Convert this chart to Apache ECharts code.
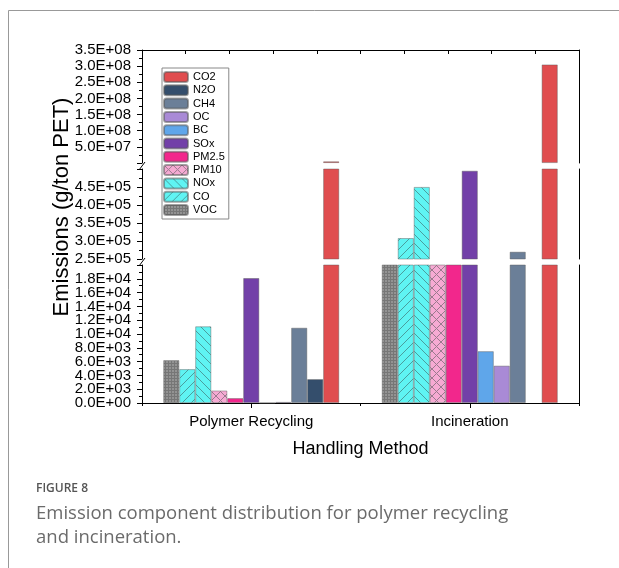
<!DOCTYPE html>
<html>
<head>
<meta charset="utf-8">
<script src="https://cdn.jsdelivr.net/npm/echarts@6/dist/echarts.min.js"></script>
<style>
html,body{margin:0;padding:0;background:#fff;}
#chart{width:619px;height:568px;}
</style>
</head>
<body>
<div id="chart"></div>
<script>
// ---------------- data ----------------
const categories = ['Polymer Recycling', 'Incineration'];
const seriesNames = ['VOC', 'CO', 'NOx', 'PM10', 'PM2.5', 'SOx', 'BC', 'OC', 'CH4', 'N2O', 'CO2'];
const VOC  = [6200, 100000];
const CO   = [4900, 308000];
const NOx  = [11100, 450000];
const PM10 = [1800, 60000];
const PM25 = [700, 80000];
const SOx  = [18100, 495000];
const BC   = [20, 7500];
const OC   = [150, 5400];
const CH4  = [10900, 270000];
const N2O  = [3450, 0];
const CO2  = [5000000, 305000000];
const seriesValues = [VOC, CO, NOx, PM10, PM25, SOx, BC, OC, CH4, N2O, CO2];
const legendOrder = ['CO2', 'N2O', 'CH4', 'OC', 'BC', 'SOx', 'PM2.5', 'PM10', 'NOx', 'CO', 'VOC'];

// ---------------- styles ----------------
function tile(size, draw) {
  const c = document.createElement('canvas');
  c.width = size; c.height = size;
  draw(c.getContext('2d'), size);
  return { image: c, repeat: 'repeat' };
}
function hatch(bg, line, dirs, size) {
  return tile(size, function (g, s) {
    g.fillStyle = bg; g.fillRect(0, 0, s, s);
    g.strokeStyle = line; g.lineWidth = 1;
    g.beginPath();
    if (dirs.indexOf('/') >= 0) {
      g.moveTo(-1, s + 1); g.lineTo(s + 1, -1);
      g.moveTo(-2, 2); g.lineTo(2, -2);
      g.moveTo(s - 2, s + 2); g.lineTo(s + 2, s - 2);
    }
    if (dirs.indexOf('\\') >= 0) {
      g.moveTo(-1, -1); g.lineTo(s + 1, s + 1);
      g.moveTo(s - 2, -2); g.lineTo(s + 2, 2);
      g.moveTo(-2, s - 2); g.lineTo(2, s + 2);
    }
    g.stroke();
  });
}
const vocFill = tile(3, function (g, s) {
  g.fillStyle = '#939393'; g.fillRect(0, 0, s, s);
  g.fillStyle = '#767676'; g.fillRect(0, 0, s, 1); g.fillRect(0, 0, 1, s);
});
const colors = {
  'VOC': vocFill,
  'CO': hatch('#5FF4F3', '#4A9E9E', '/', 9),
  'NOx': hatch('#5FF4F3', '#4A9E9E', '\\', 9),
  'PM10': hatch('#F6AAD3', '#9A7A8E', '/\\', 9),
  'PM2.5': '#F2278C',
  'SOx': '#7240A8',
  'BC': '#5FA6EA',
  'OC': '#A98AD6',
  'CH4': '#6B7F98',
  'N2O': '#344E6C',
  'CO2': '#E04D4F'
};

function sci(v) {
  if (v === 0) return '0.0E+00';
  let e = Math.floor(Math.log10(Math.abs(v)));
  let m = Math.round(v / Math.pow(10, e) * 10) / 10;
  if (m >= 10) { m /= 10; e++; }
  const ae = Math.abs(e);
  return m.toFixed(1) + 'E' + (e < 0 ? '-' : '+') + (ae < 10 ? '0' : '') + ae;
}

const FONT = '"Liberation Sans", Arial, sans-serif';
const L = 142, W = 437;
// floor: smallest value that reaches into this segment (top of the segment below)
const segs = [
  { top: 50, height: 113, min: 0, max: 3.5e8, interval: 5e7, floor: 5e5, hideMin: true, hideMax: false, zeroLabel: false },
  { top: 169, height: 90, min: 2.5e5, max: 5e5, interval: 5e4, floor: 2.5e5, hideMin: false, hideMax: true, zeroLabel: false },
  { top: 265, height: 138, min: 0, max: 2e4, interval: 2e3, floor: 0, hideMin: true, hideMax: true, zeroLabel: true }
];

const grids = segs.map(s => ({ left: L, width: W, top: s.top, height: s.height }));

const xAxis = [
  { gridIndex: 0, type: 'category', data: categories, position: 'top',
    axisLine: { onZero: false, lineStyle: { color: '#000', width: 1 } }, axisTick: { show: false }, axisLabel: { show: false } },
  { gridIndex: 0, type: 'value', position: 'top', min: 0, max: 10, interval: 1,
    axisLine: { show: false, onZero: false }, axisTick: { show: true, inside: true, length: 4, lineStyle: { color: '#000' } },
    axisLabel: { show: false }, splitLine: { show: false } },
  { gridIndex: 1, type: 'category', data: categories, show: false, axisLine: { show: false, onZero: false } },
  { gridIndex: 2, type: 'category', data: categories, position: 'bottom',
    name: 'Handling Method', nameLocation: 'middle', nameGap: 37,
    nameTextStyle: { fontFamily: FONT, fontSize: 18, color: '#000' },
    axisLine: { onZero: false, lineStyle: { color: '#000', width: 1 } },
    axisTick: { show: true, alignWithLabel: true, length: 5, lineStyle: { color: '#000' } },
    axisLabel: { fontFamily: FONT, fontSize: 15, color: '#000', margin: 11 } },
  { gridIndex: 2, type: 'category', data: categories, position: 'bottom',
    axisLine: { show: false, onZero: false }, axisTick: { show: true, length: 3, lineStyle: { color: '#000' } },
    axisLabel: { show: false } }
];

const labelStyle = { fontFamily: FONT, fontSize: 15, color: '#000', margin: 11, hideOverlap: false };
const yAxis = [];
const extraY = [];
segs.forEach((s, i) => {
  yAxis.push({
    gridIndex: i, type: 'value', position: 'left', min: s.min, max: s.max, interval: s.interval,
    axisLine: { show: true, onZero: false, lineStyle: { color: '#000', width: 1 } },
    axisTick: { show: true, length: 5, lineStyle: { color: '#000' } },
    minorTick: { show: true, splitNumber: 2, length: 3, lineStyle: { color: '#000' } },
    splitLine: { show: false },
    axisLabel: Object.assign({}, labelStyle, { formatter: sci,
      showMinLabel: !s.hideMin, showMaxLabel: !s.hideMax })
  });
  yAxis.push({
    gridIndex: i, type: 'value', position: 'right', min: s.min, max: s.max, interval: s.interval,
    axisLine: { show: true, onZero: false, lineStyle: { color: '#000', width: 1 } },
    axisTick: { show: false }, axisLabel: { show: false }, splitLine: { show: false }
  });
  if (s.zeroLabel) {
    // separate axis carrying only the zero label, so it never hides its neighbour
    extraY.push({
      gridIndex: i, type: 'value', position: 'left', min: s.min, max: s.max, interval: s.interval,
      axisLine: { show: false, onZero: false }, axisTick: { show: false }, splitLine: { show: false },
      axisLabel: Object.assign({}, labelStyle, { formatter: v => (v === 0 ? sci(v) : ''),
        showMinLabel: true, showMaxLabel: false })
    });
  }
});
extraY.forEach(a => yAxis.push(a));

const xIdx = [0, 2, 3];
const series = [];
segs.forEach((s, gi) => {
  seriesNames.forEach((name, k) => {
    const vals = seriesValues[k].map(v => (v > s.floor && v > s.min ? v : '-'));
    series.push({
      name: name, type: 'bar', xAxisIndex: xIdx[gi], yAxisIndex: gi * 2,
      data: vals, barGap: '0%', barCategoryGap: '19.5%', clip: true,
      itemStyle: { color: colors[name], borderColor: 'rgba(90,90,90,0.55)', borderWidth: 0.8 },
      emphasis: { disabled: true }, animation: false
    });
  });
});

function brk(yTop, yBot) {
  return { type: 'line', shape: { x1: L - 3, y1: yBot + 1, x2: L + 3, y2: yTop - 1 },
    style: { stroke: '#000', lineWidth: 1 }, z: 100 };
}

const option = {
  animation: false,
  backgroundColor: '#fff',
  grid: grids,
  xAxis: xAxis,
  yAxis: yAxis,
  legend: {
    data: legendOrder, orient: 'vertical', left: 162, top: 68,
    itemWidth: 24, itemHeight: 10, itemGap: 1.3,
    padding: [3, 4, 3, 1], borderColor: '#888', borderWidth: 1,
    textStyle: { fontFamily: FONT, fontSize: 11, color: '#000', lineHeight: 11 },
    selectedMode: false
  },
  series: series,
  graphic: [
    { type: 'rect', shape: { x: 8.5, y: 10.5, width: 640, height: 640 },
      style: { fill: 'none', stroke: '#999', lineWidth: 1 }, z: -10, silent: true },
    { type: 'text', x: 62, y: 207, rotation: Math.PI / 2,
      style: { text: 'Emissions (g/ton PET)', font: '22px ' + FONT, fill: '#000',
        textAlign: 'center', textVerticalAlign: 'middle', align: 'center', verticalAlign: 'middle' } },
    brk(163, 169), brk(259, 265),
    { type: 'text', x: 36, y: 489,
      style: { text: 'FIGURE 8', font: '600 12px "Open Sans", sans-serif', fill: '#555',
        textVerticalAlign: 'middle', verticalAlign: 'middle' } },
    { type: 'text', x: 36, y: 514,
      style: { text: 'Emission component distribution for polymer recycling', font: '18.5px "Open Sans", sans-serif', fill: '#6b6b6b',
        textVerticalAlign: 'middle', verticalAlign: 'middle' } },
    { type: 'text', x: 36, y: 538,
      style: { text: 'and incineration.', font: '18.5px "Open Sans", sans-serif', fill: '#6b6b6b',
        textVerticalAlign: 'middle', verticalAlign: 'middle' } }
  ]
};

const chart = echarts.init(document.getElementById('chart'), null, { renderer: 'canvas' });
chart.setOption(option);
</script>
</body>
</html>
